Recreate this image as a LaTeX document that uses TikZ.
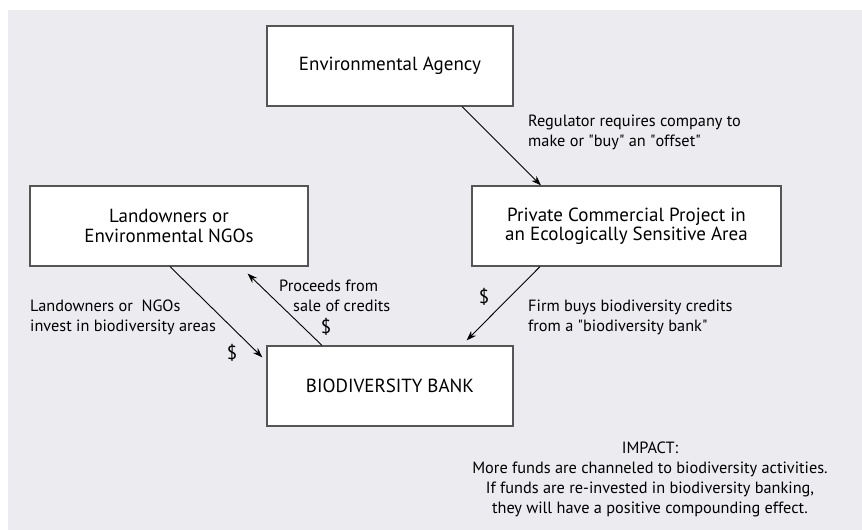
\documentclass[tikz,border=0pt]{standalone}
\usepackage{fontspec}
\setmainfont{PT Sans}
\newfontfamily\quotefont{PT Sans}[Ligatures=TeXOff]
\usetikzlibrary{arrows.meta}
\definecolor{panel}{RGB}{235,235,240}
\definecolor{frame}{RGB}{85,85,85}
\newcommand{\dq}{{\quotefont"}}
\tikzset{
  box/.style={draw=frame, line width=1.2pt, fill=white, inner sep=0pt,
              align=center, font=\fontsize{19}{19.5}\selectfont},
  flow/.style={line width=0.9pt, -{Stealth[length=10pt,width=7pt]}},
  note/.style={inner sep=0pt, font=\fontsize{16.3}{20}\selectfont},
  dollar/.style={inner sep=0pt, font=\fontsize{19}{20}\selectfont}
}
\begin{document}
\begin{tikzpicture}[x=1pt,y=-1pt]
  \useasboundingbox (0,0) rectangle (862,530);
  \fill[panel] (8,10) rectangle (862,530);

  % the four parties
  \node[box, minimum width=246pt, minimum height=80pt] (env) at (390,66) {Environmental Agency};
  \node[box, minimum width=278pt, minimum height=80pt] (land) at (169,226) {Landowners or\\Environmental NGOs};
  \node[box, minimum width=309pt, minimum height=80pt] (priv) at (626.5,226) {Private Commercial Project in\\an Ecologically Sensitive Area};
  \node[box, minimum width=246pt, minimum height=80pt] (bank) at (390,386) {BIODIVERSITY BANK};

  % flows between them
  \draw[flow] ([xshift=72pt]env.south) -- ([xshift=-85.5pt]priv.north);
  \draw[flow] ([xshift=1pt]land.south) -- ([xshift=-4pt,yshift=-12pt]bank.north west);
  \draw[flow] ([xshift=-68pt]bank.north) -- ([xshift=-61pt,yshift=-7pt]land.south east);
  \draw[flow] ([xshift=-86.5pt]priv.south) -- ([xshift=-47pt,yshift=5pt]bank.north east);

  % flow labels
  \node[note, anchor=west, align=left] (reglbl) at (528,132) {Regulator requires company to\\make or \dq buy\dq{} an \dq offset\dq};
  \node[note, anchor=west, align=left] (invlbl) at (30,317) {Landowners or\ \ NGOs\\invest in biodiversity areas};
  \node[note, anchor=west, align=left] (proclbl) at (279,295.5) {Proceeds from\\\hspace*{14pt}sale of credits};
  \node[note, anchor=west, align=left] (buylbl) at (528,317.5) {Firm buys biodiversity credits\\from a \dq biodiversity bank\dq};
  \node[dollar] (d1) at (232,353) {\$};
  \node[dollar] (d2) at (326,327) {\$};
  \node[dollar] (d3) at (484,297) {\$};

  % outcome
  \node[note, align=center] (impact) at (650,479.5) {IMPACT:\\More funds are channeled to biodiversity activities.\\If funds are re-invested in biodiversity banking,\\they will have a positive compounding effect.};
\end{tikzpicture}
\end{document}
